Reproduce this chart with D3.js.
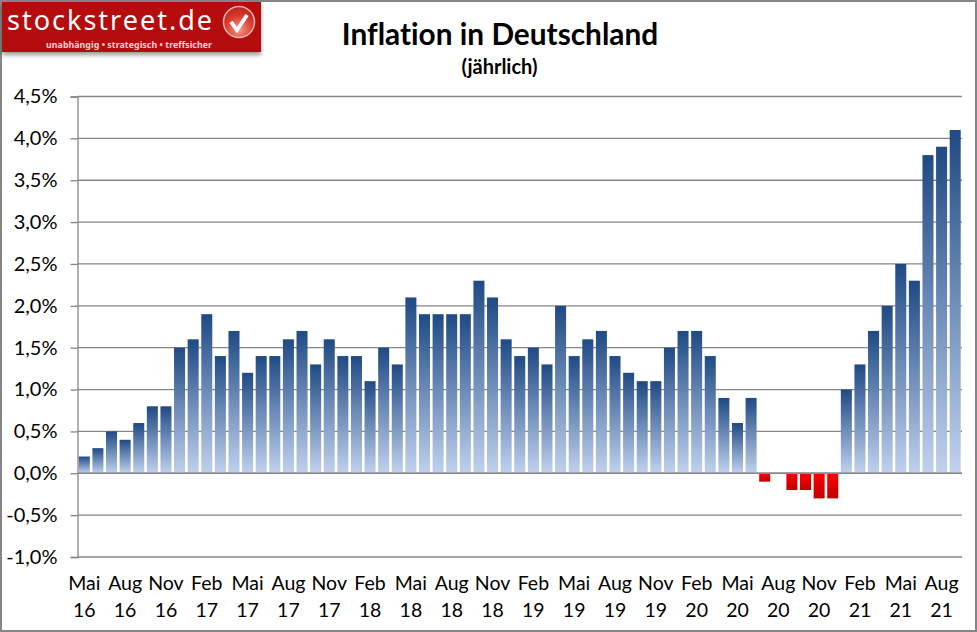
<!DOCTYPE html>
<html><head><meta charset="utf-8">
<style>html,body{margin:0;padding:0;background:#fff;overflow:hidden}svg{display:block}text{font-family:Lato,"Open Sans",sans-serif;font-variant-ligatures:none}</style>
<script src="https://cdn.jsdelivr.net/npm/d3@7/dist/d3.min.js"></script>
</head><body><svg id="c" width="977" height="632"></svg>
<script>
const months=["Mai","Jun","Jul","Aug","Sep","Okt","Nov","Dez","Jan","Feb","Mär","Apr"];
const startYear=16;
const values=[0.2,0.3,0.5,0.4,0.6,0.8,0.8,1.5,1.6,1.9,1.4,1.7,1.2,1.4,1.4,1.6,1.7,1.3,1.6,1.4,1.4,1.1,1.5,1.3,2.1,1.9,1.9,1.9,1.9,2.3,2.1,1.6,1.4,1.5,1.3,2.0,1.4,1.6,1.7,1.4,1.2,1.1,1.1,1.5,1.7,1.7,1.4,0.9,0.6,0.9,-0.1,0,-0.2,-0.2,-0.3,-0.3,1.0,1.3,1.7,2.0,2.5,2.3,3.8,3.9,4.1];
const yTicks=[-1,-0.5,0,0.5,1,1.5,2,2.5,3,3.5,4,4.5];
const title="Inflation in Deutschland", subtitle="(jährlich)";
const labelMonth=i=>months[i%12];
const labelYear=i=>String(startYear+Math.floor((i+4)/12));

const svg=d3.select("#c");
const defs=svg.append("defs");
const g1=defs.append("linearGradient").attr("id","pos").attr("x1",0).attr("x2",0).attr("y1",0).attr("y2",1);
g1.append("stop").attr("offset",0).attr("stop-color","#1f4a84");
g1.append("stop").attr("offset",1).attr("stop-color","#c0d1ee");
const g2=defs.append("linearGradient").attr("id","neg").attr("x1",0).attr("x2",0).attr("y1",0).attr("y2",1);
g2.append("stop").attr("offset",0).attr("stop-color","#ff0000");
g2.append("stop").attr("offset",1).attr("stop-color","#c00000");
const g3=defs.append("radialGradient").attr("id","ball").attr("cx","0.5").attr("cy","0.75").attr("r","0.75");
g3.append("stop").attr("offset",0).attr("stop-color","#f59a85");
g3.append("stop").attr("offset",0.6).attr("stop-color","#d8392e");
g3.append("stop").attr("offset",1).attr("stop-color","#b5261f");
const f=defs.append("filter").attr("id","sh").attr("x","-5%").attr("y","-5%").attr("width","110%").attr("height","125%");
f.append("feDropShadow").attr("dx",0).attr("dy",3).attr("stdDeviation",2).attr("flood-color","#000").attr("flood-opacity",0.4);

const y=d3.scaleLinear().domain([-1,4.5]).range([557,96.5]);
const x=d3.scaleBand().domain(d3.range(values.length)).range([77.5,962]).paddingInner(0.19).paddingOuter(0.095);

// frame
svg.append("rect").attr("x",1).attr("y",1).attr("width",975).attr("height",630).attr("fill","#fff").attr("stroke","#868686").attr("stroke-width",2);

// y axis with gridlines
const fmt=v=>d3.format(".1f")(v).replace(".",",").replace("−","-")+"%";
const ya=svg.append("g").attr("transform","translate(77.5,0)")
  .call(d3.axisLeft(y).tickValues(yTicks).tickFormat(fmt).tickSize(7).tickPadding(13));
ya.selectAll("text").attr("font-size",20).attr("fill","#000").style("font-family","Lato,sans-serif");
ya.selectAll("line,path").attr("stroke","#868686").attr("stroke-width",1.3);
svg.append("g").selectAll("line").data(yTicks).join("line")
  .attr("x1",77.5).attr("x2",962).attr("y1",d=>y(d)).attr("y2",d=>y(d))
  .attr("stroke","#868686").attr("stroke-width",1.3);

// bars
svg.append("g").selectAll("rect").data(values.map((v,i)=>({v,i})).filter(d=>d.v!==0)).join("rect")
  .attr("x",d=>x(d.i)).attr("width",x.bandwidth())
  .attr("y",d=>y(Math.max(d.v,0))).attr("height",d=>Math.abs(y(d.v)-y(0)))
  .attr("fill",d=>d.v>0?"url(#pos)":"url(#neg)");

// zero line over bars
svg.append("line").attr("x1",77.5).attr("x2",962).attr("y1",y(0)).attr("y2",y(0)).attr("stroke","#868686").attr("stroke-width",1.3);

// x labels
const idx=d3.range(0,values.length,3);
const xl=svg.append("g").selectAll("g").data(idx).join("g").attr("transform",d=>`translate(${x(d)+x.bandwidth()/2},0)`)
  .attr("text-anchor","middle").attr("font-size",19.5).attr("fill","#000");
xl.append("text").attr("y",590).text(labelMonth);
xl.append("text").attr("y",617).text(labelYear);

// titles
svg.append("text").attr("x",500).attr("y",45).attr("text-anchor","middle").attr("font-size",29.8).attr("font-weight",700).attr("fill","#000").text(title);
svg.append("text").attr("x",499.5).attr("y",74).attr("text-anchor","middle").attr("font-size",20).attr("font-weight",700).attr("fill","#000").text(subtitle);

// logo
const lg=svg.append("g");
lg.append("rect").attr("x",2).attr("y",2).attr("width",259).attr("height",50).attr("fill","#b5090c").attr("filter","url(#sh)");
lg.append("text").attr("x",7).attr("y",30).attr("font-size",27).attr("fill","#fff").attr("textLength",205).attr("lengthAdjust","spacing").style("font-family","'Noto Sans',sans-serif").text("stockstreet.de");
lg.append("text").attr("x",46).attr("y",47.5).attr("font-size",8.8).attr("font-weight",700).attr("fill","#f3d5d5").attr("textLength",166).attr("lengthAdjust","spacing").style("font-family","'Noto Sans',sans-serif").text("unabhängig • strategisch • treffsicher");
lg.append("circle").attr("cx",239).attr("cy",22).attr("r",15.5).attr("fill","url(#ball)").attr("stroke","#eeb5ae").attr("stroke-width",1.5);
lg.append("path").attr("d","M231 22 L237 30 L247 15").attr("fill","none").attr("stroke","#fff").attr("stroke-width",3.8);
</script></body></html>
